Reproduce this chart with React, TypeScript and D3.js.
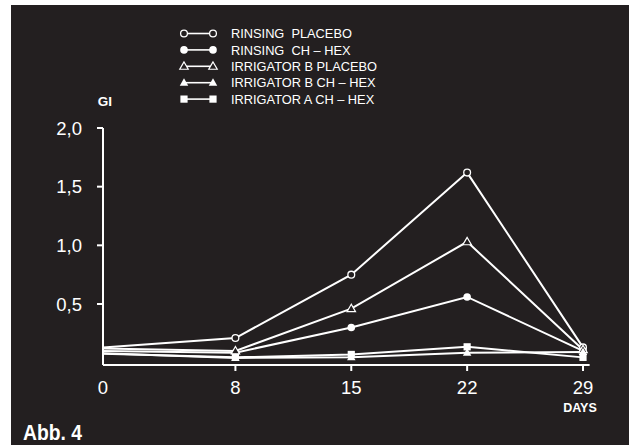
import React from 'react';
import * as d3 from 'd3';

const days = [0, 8, 15, 22, 29];
const yTicks = [0.5, 1.0, 1.5, 2.0];

const rinsingPlacebo = [0.13, 0.21, 0.75, 1.62, 0.13];
const rinsingChhex = [0.10, 0.085, 0.30, 0.56, 0.10];
const irrigatorBPlacebo = [0.12, 0.10, 0.46, 1.03, 0.11];
const irrigatorBChhex = [0.08, 0.04, 0.045, 0.085, 0.09];
const irrigatorAChhex = [0.075, 0.045, 0.07, 0.135, 0.045];

const seriesNames = [
  'RINSING  PLACEBO',
  'RINSING  CH – HEX',
  'IRRIGATOR B PLACEBO',
  'IRRIGATOR B CH – HEX',
  'IRRIGATOR A CH – HEX',
];
const seriesMarkers = ['circleOpen', 'circle', 'triangleOpen', 'triangle', 'square'];
const seriesValues = [rinsingPlacebo, rinsingChhex, irrigatorBPlacebo, irrigatorBChhex, irrigatorAChhex];

const W = 629;
const H = 445;
const BG = '#231f20';
const FG = '#ffffff';

const x = d3.scaleLinear().domain([0, 29]).range([103, 583]);
const y = d3.scaleLinear().domain([-0.02, 2]).range([365, 128]);

const line = d3.line<number>()
  .x((_, i) => x(days[i]))
  .y(d => y(d));

const Marker = ({ type, cx, cy }: { type: string; cx: number; cy: number }) => {
  if (type === 'circleOpen') return <circle cx={cx} cy={cy} r={3.4} fill={BG} stroke={FG} strokeWidth={1.3} />;
  if (type === 'circle') return <circle cx={cx} cy={cy} r={3.8} fill={FG} />;
  if (type === 'triangleOpen' || type === 'triangle') {
    const s = 8.5;
    const h = s * 0.87;
    const pts = `${cx},${cy - h * 0.6} ${cx - s / 2},${cy + h * 0.4} ${cx + s / 2},${cy + h * 0.4}`;
    return type === 'triangle'
      ? <polygon points={pts} fill={FG} />
      : <polygon points={pts} fill={BG} stroke={FG} strokeWidth={1.2} />;
  }
  return <rect x={cx - 3.6} y={cy - 3.6} width={7.2} height={7.2} fill={FG} />;
};

export default function App() {
  const legendY = (i: number) => 33.5 + i * 16.4;
  return (
    <svg width={W} height={H} style={{ display: 'block', position: 'absolute', left: 0, top: 0 }}
      fontFamily="'Liberation Sans', Arial, sans-serif">
      <rect x={0} y={0} width={W} height={H} fill="#ffffff" />
      <rect x={11} y={5} width={W - 11} height={H - 5} fill={BG} />

      {/* legend */}
      {seriesNames.map((name, i) => (
        <g key={name}>
          <line x1={184} x2={213} y1={legendY(i)} y2={legendY(i)} stroke={FG} strokeWidth={1.6} />
          <Marker type={seriesMarkers[i]} cx={184} cy={legendY(i)} />
          <Marker type={seriesMarkers[i]} cx={213} cy={legendY(i)} />
          <text x={231} y={legendY(i)} dy="0.36em" fill={FG} fontSize={12.8} style={{ whiteSpace: 'pre' }}>{name}</text>
        </g>
      ))}

      {/* y axis */}
      <text x={105} y={101} dy="0.36em" textAnchor="middle" fill={FG} fontSize={13.5} fontWeight="bold">GI</text>
      <line x1={x(0)} x2={x(0)} y1={y(2)} y2={y(-0.02)} stroke={FG} strokeWidth={2} />
      {yTicks.map(t => (
        <g key={t}>
          <line x1={x(0) - 6} x2={x(0)} y1={y(t)} y2={y(t)} stroke={FG} strokeWidth={2} />
          <text x={82} y={y(t)} dy="0.36em" textAnchor="end" fill={FG} fontSize={18.5}>
            {d3.format('.1f')(t).replace('.', ',')}
          </text>
        </g>
      ))}

      {/* x axis */}
      <line x1={x(0)} x2={x(29.4)} y1={y(-0.02)} y2={y(-0.02)} stroke={FG} strokeWidth={2} />
      {days.map(d => (
        <g key={d}>
          {d > 0 && <line x1={x(d)} x2={x(d)} y1={y(-0.02)} y2={y(-0.02) + 6} stroke={FG} strokeWidth={2} />}
          <text x={x(d)} y={387} dy="0.36em" textAnchor="middle" fill={FG} fontSize={18.5}>{d}</text>
        </g>
      ))}
      <text x={580} y={407} dy="0.36em" textAnchor="middle" fill={FG} fontSize={12.5} fontWeight="bold">DAYS</text>

      {/* series */}
      {seriesValues.map((vals, i) => (
        <path key={i} d={line(vals) || ''} fill="none" stroke={FG} strokeWidth={2} />
      ))}
      {seriesValues.map((vals, i) => (
        <g key={'m' + i}>
          {vals.map((v, j) => j > 0 && <Marker key={j} type={seriesMarkers[i]} cx={x(days[j])} cy={y(v)} />)}
        </g>
      ))}

      <text x={23} y={432} dy="0.36em" fill={FG} fontSize={22} fontWeight="bold"
        textLength={59} lengthAdjust="spacingAndGlyphs">Abb. 4</text>
    </svg>
  );
}
